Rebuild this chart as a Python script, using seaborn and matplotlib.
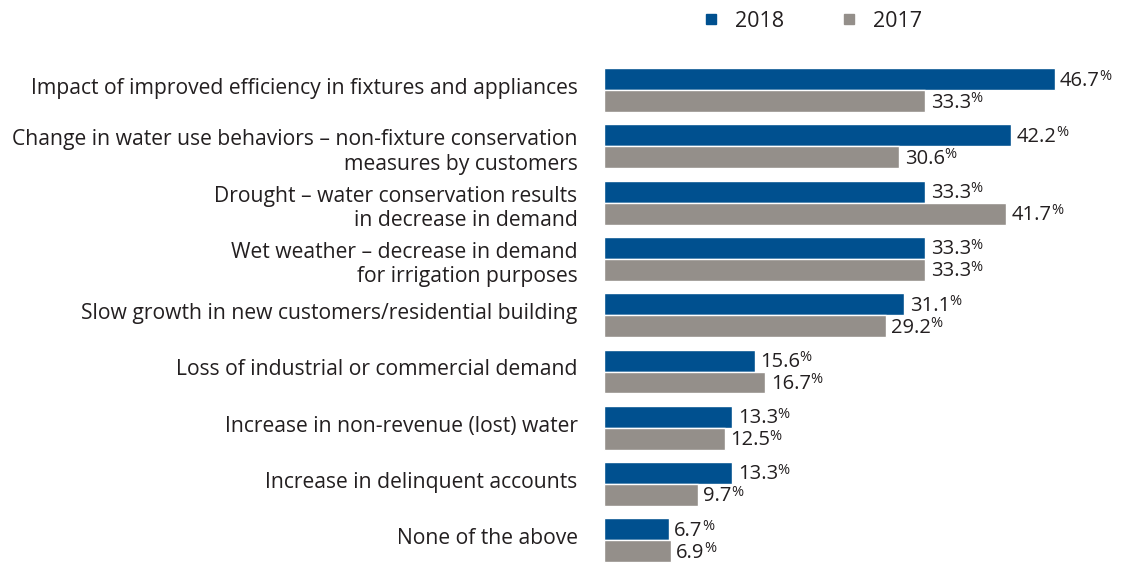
import pandas as pd
import matplotlib.pyplot as plt
import seaborn as sns
from matplotlib.lines import Line2D
from matplotlib.transforms import ScaledTranslation

categories = [
    "Impact of improved efficiency in fixtures and appliances",
    "Change in water use behaviors \u2013 non-fixture conservation\nmeasures by customers",
    "Drought \u2013 water conservation results\nin decrease in demand",
    "Wet weather \u2013 decrease in demand\nfor irrigation purposes",
    "Slow growth in new customers/residential building",
    "Loss of industrial or commercial demand",
    "Increase in non-revenue (lost) water",
    "Increase in delinquent accounts",
    "None of the above",
]
vals_2018 = [46.7, 42.2, 33.3, 33.3, 31.1, 15.6, 13.3, 13.3, 6.7]
vals_2017 = [33.3, 30.6, 41.7, 33.3, 29.2, 16.7, 12.5, 9.7, 6.9]
years = ["2018", "2017"]
colors = {"2018": "#00508F", "2017": "#948F8A"}

df = pd.DataFrame({
    "category": categories * 2,
    "year": ["2018"] * len(categories) + ["2017"] * len(categories),
    "value": vals_2018 + vals_2017,
})

sns.set_style("white")
plt.rcParams["font.family"] = ["Open Sans", "DejaVu Sans"]

fig = plt.figure(figsize=(11.25, 5.64), dpi=100)
ax = fig.add_axes([604 / 1125, 0, 1 - 604 / 1125, 502 / 564])

sns.barplot(data=df, y="category", x="value", hue="year", hue_order=years,
            palette=colors, orient="h", width=0.78, dodge=True, ax=ax,
            legend=False, saturation=1)

ax.set_xlim(0, 54)
ax.set_ylim(8.42, -0.5)
ax.set_xlabel("")
ax.set_ylabel("")
ax.set_xticks([])
ax.tick_params(axis="y", length=0, pad=19, labelsize=15.2, labelcolor="#231f20")
for lab in ax.get_yticklabels():
    lab.set_horizontalalignment("right")
    lab.set_multialignment("right")
    dy = -1 if "\n" in lab.get_text() else 3
    lab.set_transform(lab.get_transform() + ScaledTranslation(0, dy / 72, fig.dpi_scale_trans))
sns.despine(ax=ax, left=True, bottom=True)

fig.canvas.draw()
renderer = fig.canvas.get_renderer()
for cont in ax.containers:
    for bar, v in zip(cont, cont.datavalues):
        y = bar.get_y() + bar.get_height() / 2
        t = ax.annotate(f"{v:.1f}", (bar.get_width(), y), xytext=(4, -1),
                        textcoords="offset points", ha="left", va="center",
                        fontsize=14.5, color="#231f20")
        w = t.get_window_extent(renderer).width * 72 / fig.dpi
        ax.annotate("%", (bar.get_width(), y), xytext=(4 + w - 0.5, 2),
                    textcoords="offset points", ha="left", va="center",
                    fontsize=10.5, color="#231f20")

handles = [Line2D([], [], marker="s", linestyle="", markersize=7.5,
                  color=colors[yr]) for yr in years]
fig.legend(handles, years, loc="upper center", bbox_to_anchor=(0.72, 1.015),
           ncol=2, frameon=False, fontsize=15.5, columnspacing=2.45,
           handletextpad=0.5, handlelength=1.2, labelcolor="#231f20")

fig.savefig("out.png", dpi=100)
